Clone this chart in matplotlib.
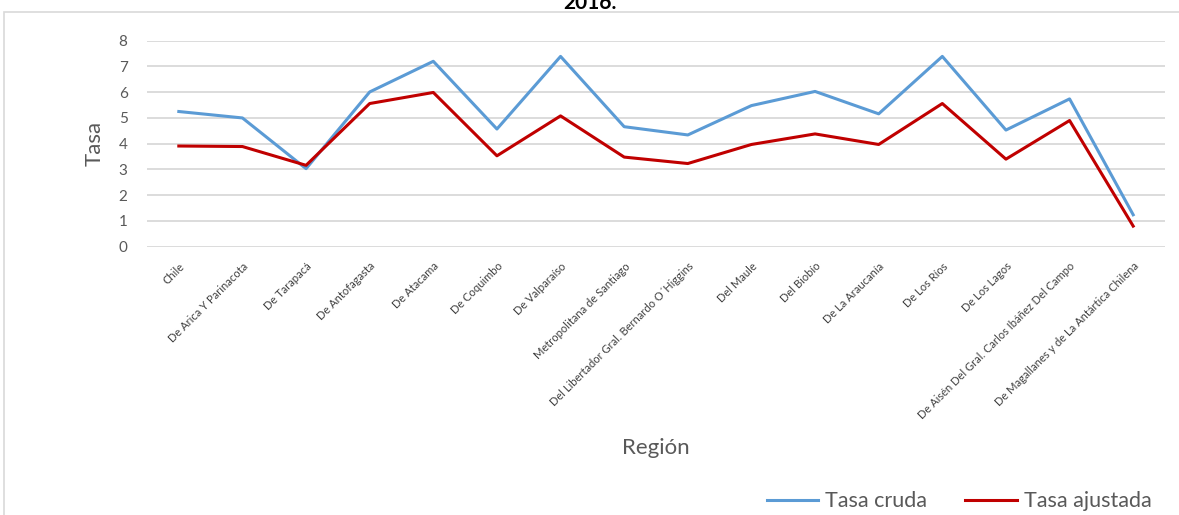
import numpy as np
import matplotlib.pyplot as plt
from matplotlib.patches import Rectangle

regiones = ["Chile", "De Arica Y Parinacota", "De Tarapacá", "De Antofagasta",
            "De Atacama", "De Coquimbo", "De Valparaíso", "Metropolitana de Santiago",
            "Del Libertador Gral. Bernardo O´Higgins", "Del Maule", "Del Biobío",
            "De La Araucanía", "De Los Ríos", "De Los Lagos",
            "De Aisén Del Gral. Carlos Ibáñez Del Campo",
            "De Magallanes y de La Antártica Chilena"]
tasa_cruda = [5.25, 5.00, 3.03, 6.01, 7.20, 4.57, 7.39, 4.66, 4.34, 5.48, 6.03,
              5.16, 7.39, 4.53, 5.74, 1.24]
tasa_ajustada = [3.91, 3.89, 3.16, 5.56, 5.99, 3.53, 5.08, 3.48, 3.23, 3.97, 4.38,
                 3.97, 5.56, 3.40, 4.90, 0.80]

plt.rcParams['font.family'] = ['Lato', 'DejaVu Sans']
gris = '#595959'

fig = plt.figure(figsize=(11.79, 5.15), dpi=100)
ax = fig.add_axes([147 / 1179, 1 - 246.7 / 515, (1165 - 147) / 1179, 206 / 515])

# chart area border (partly cut off)
fig.patches.append(Rectangle((4 / 1179, -0.1), 1.2, 1 - 12 / 515 + 0.1,
                             transform=fig.transFigure, fill=False,
                             edgecolor='#d9d9d9', linewidth=1.2))

x = np.arange(len(regiones))
ax.plot(x, tasa_cruda, color='#5B9BD5', linewidth=2.2, label='Tasa cruda')
ax.plot(x, tasa_ajustada, color='#C00000', linewidth=2.2, label='Tasa ajustada')

ax.set_xlim(-0.5, len(regiones) - 0.5)
ax.set_ylim(0, 8)
ax.set_yticks(range(0, 9))
ax.yaxis.grid(True, color='#d9d9d9', linewidth=1.3)
ax.set_axisbelow(True)
for s in ax.spines.values():
    s.set_visible(False)
ax.tick_params(length=0, colors=gris)
ax.tick_params(axis='y', labelsize=11, pad=14)

ax.set_xticks(x)
ax.set_xticklabels(regiones, rotation=45, ha='right', va='top',
                   rotation_mode='anchor', fontsize=8, color='#404040')
ax.tick_params(axis='x', pad=10)

ax.set_ylabel('Tasa', fontsize=16, color=gris, labelpad=10)
ax.set_xlabel('Región', fontsize=16, color=gris, labelpad=12)

fig.text(0.5, 0.995, '2016.', ha='center', va='center', fontsize=15,
         fontweight='bold', color='black')

fig.legend(loc='lower right', bbox_to_anchor=(0.993, -0.03), ncol=2, frameon=False,
           fontsize=15.5, labelcolor=gris, handlelength=2.4, columnspacing=1.8,
           handletextpad=0.3)

plt.savefig('out.png', dpi=100)
